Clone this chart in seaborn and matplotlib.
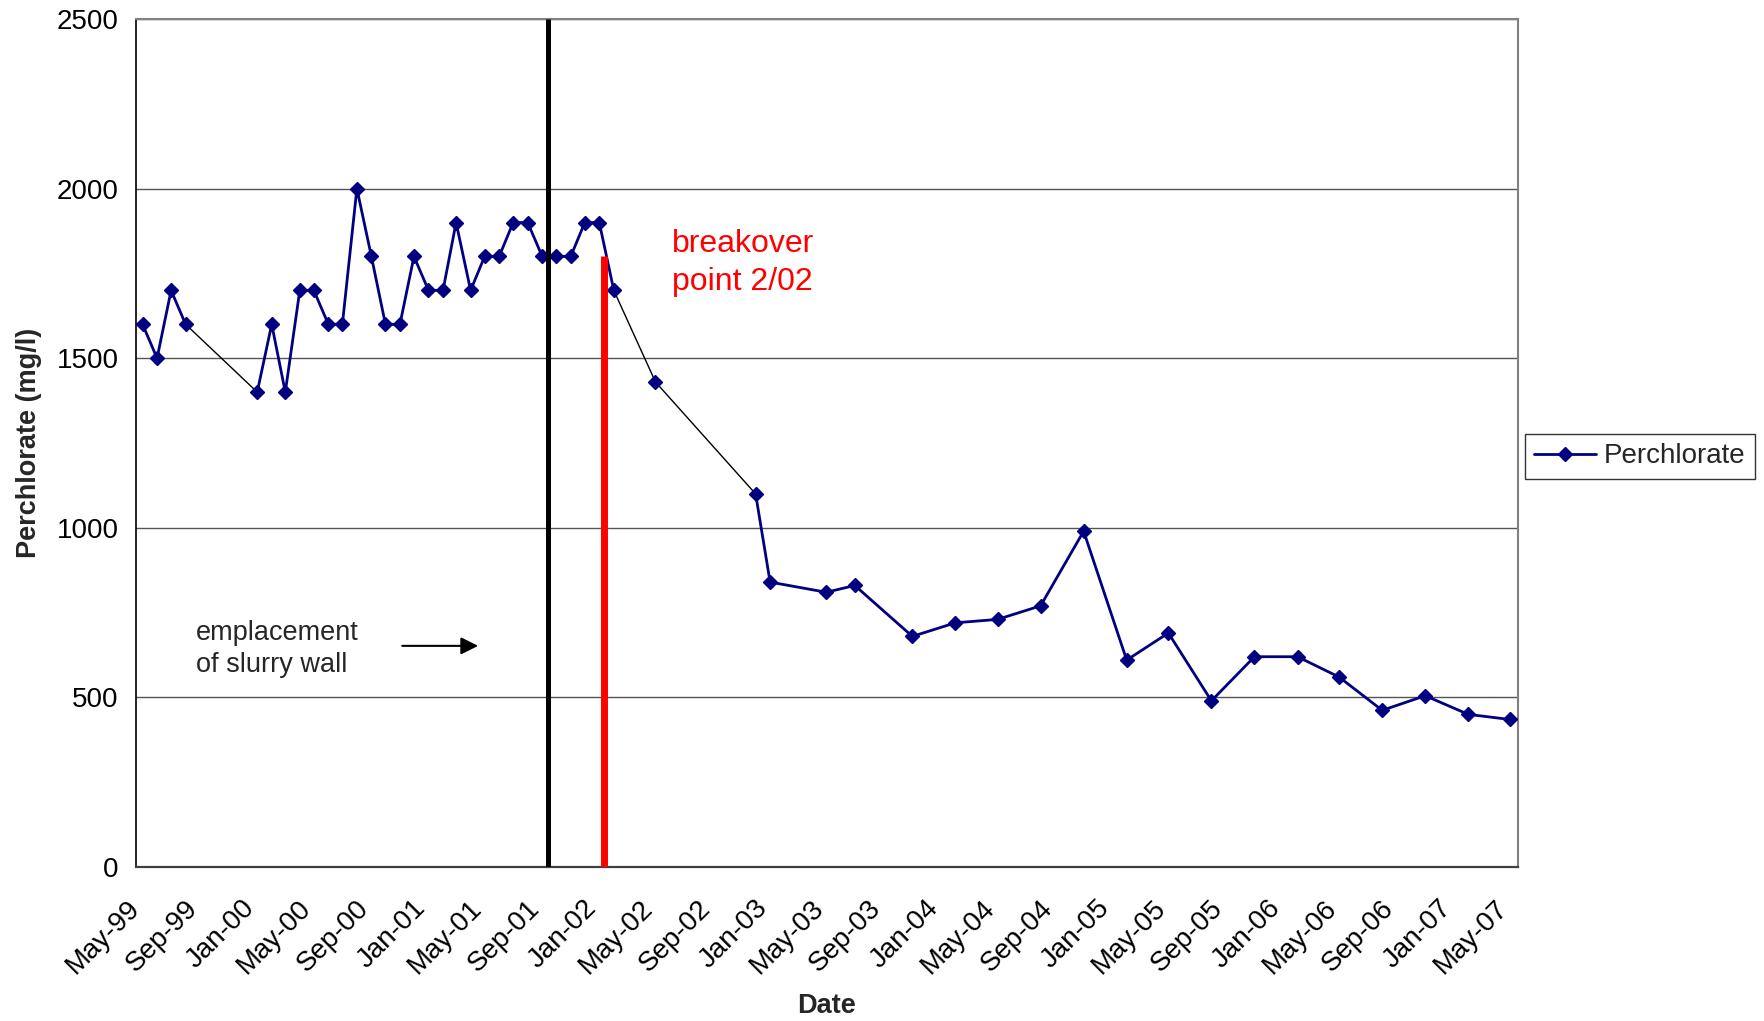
import pandas as pd
import numpy as np
import matplotlib
matplotlib.use('Agg')
import matplotlib.pyplot as plt
import matplotlib.dates as mdates
from matplotlib.lines import Line2D
from matplotlib.transforms import Bbox, TransformedBbox
import seaborn as sns

# sampling months and perchlorate concentrations (mg/l)
sample_months = ["1999-05", "1999-06", "1999-07", "1999-08",
                 "2000-01", "2000-02", "2000-03", "2000-04", "2000-05", "2000-06",
                 "2000-07", "2000-08", "2000-09", "2000-10", "2000-11", "2000-12",
                 "2001-01", "2001-02", "2001-03", "2001-04", "2001-05", "2001-06",
                 "2001-07", "2001-08", "2001-09", "2001-10", "2001-11", "2001-12",
                 "2002-01", "2002-02", "2002-05", "2002-12", "2003-01", "2003-05",
                 "2003-07", "2003-11", "2004-02", "2004-05", "2004-08", "2004-11",
                 "2005-02", "2005-05", "2005-08", "2005-11", "2006-02", "2006-05",
                 "2006-08", "2006-11", "2007-02", "2007-05"]
perchlorate = [1600, 1500, 1700, 1600,
               1400, 1600, 1400, 1700, 1700, 1600,
               1600, 2000, 1800, 1600, 1600, 1800,
               1700, 1700, 1900, 1700, 1800, 1800,
               1900, 1900, 1800, 1800, 1800, 1900,
               1900, 1700, 1430, 1100, 840, 810,
               830, 680, 720, 730, 770, 990,
               610, 690, 490, 620, 620, 560,
               462, 505, 450, 435]
# months after which the series is bridged by a thin black hand-drawn line
bridged_after = ["1999-08", "2002-02", "2002-05"]

slurry_wall_date = "2001-09-28"
breakover_date = "2002-01-24"
breakover_top = 1800

sns.set_style('white')
plt.rcParams['font.family'] = ['Liberation Sans', 'DejaVu Sans']

df = pd.DataFrame({'month': sample_months, 'value': perchlorate})
df['date'] = pd.to_datetime(df['month']) + pd.Timedelta(days=14)
df['seg'] = df['month'].isin(bridged_after).shift(1, fill_value=False).cumsum()

navy = '#000080'
fig = plt.figure(figsize=(17.64, 10.21), dpi=100)
ax = fig.add_axes([0.0771, 0.1508, 0.7834, 0.8306])

# black bridging lines across the data gaps
for m in bridged_after:
    i = df.index[df['month'] == m][0]
    ax.plot(df['date'].iloc[i:i + 2], df['value'].iloc[i:i + 2],
            color='black', lw=1.0, zorder=2)

sns.lineplot(data=df, x='date', y='value', units='seg', estimator=None,
             sort=False, color=navy, lw=2, marker='D', markersize=7.5,
             markeredgecolor=navy, markeredgewidth=1, ax=ax, legend=False,
             zorder=3)

ax.vlines(pd.Timestamp(slurry_wall_date), 0, 2500, color='black', lw=3.6, zorder=4)
ax.vlines(pd.Timestamp(breakover_date), 0, breakover_top, color='red', lw=5, zorder=4)

ax.text(pd.Timestamp('2002-06-20'), 1882, 'breakover\npoint 2/02', color='red',
        fontsize=23, va='top', ha='left', linespacing=1.35)
t = ax.text(pd.Timestamp('1999-09-07'), 728, 'emplacement\nof slurry wall',
            fontsize=19.5, va='top', ha='left', linespacing=1.3)
# the original text box cuts off the descenders of the second line
x0 = mdates.date2num(pd.Timestamp('1999-08-01'))
t.set_clip_box(TransformedBbox(Bbox([[x0, 574], [x0 + 600, 900]]), ax.transData))
ax.annotate('', xy=(mdates.date2num(pd.Timestamp('2001-05-07')), 652),
            xytext=(mdates.date2num(pd.Timestamp('2000-11-14')), 652),
            arrowprops=dict(arrowstyle='-|>', color='black', lw=1.5, mutation_scale=26))

ax.set_xlim(pd.Timestamp('1999-05-01'), pd.Timestamp('2007-06-01'))
ax.set_ylim(0, 2500)
ax.set_yticks(np.arange(0, 2501, 500))
ax.xaxis.set_major_locator(mdates.MonthLocator(bymonth=[1, 5, 9]))
ax.xaxis.set_major_formatter(mdates.DateFormatter('%b-%y'))
ax.yaxis.grid(True, color='#555555', lw=1)
ax.set_axisbelow(True)

ax.tick_params(axis='both', direction='out', length=6, width=1, color='black',
               labelsize=20, labelcolor='black')
ax.tick_params(axis='y', pad=6.5)
ax.tick_params(axis='x', pad=21)
for lab in ax.get_xticklabels():
    lab.set_rotation(45)
    lab.set_ha('right')
    lab.set_va('center')
    lab.set_rotation_mode('anchor')

for side in ['top', 'right']:
    ax.spines[side].set_color('#808080')
    ax.spines[side].set_linewidth(1.5)
ax.spines['left'].set_color('black')
ax.spines['left'].set_linewidth(1.2)
ax.spines['bottom'].set_color('#404040')
ax.spines['bottom'].set_linewidth(1.6)

ax.set_xlabel('Date', fontsize=19.5, fontweight='bold')
ax.set_ylabel('Perchlorate (mg/l)', fontsize=19.5, fontweight='bold')
ax.xaxis.set_label_coords(0.5, -0.149)
ax.yaxis.set_label_coords(-0.068, 0.5)

handle = Line2D([], [], color=navy, lw=2, marker='D', markersize=7.5,
                markeredgecolor=navy)
leg = fig.legend([handle], ['Perchlorate'], loc='center',
                 bbox_to_anchor=(0.9297, 0.553), bbox_transform=fig.transFigure,
                 frameon=True, fancybox=False, edgecolor='black', fontsize=20,
                 handlelength=2.2, handletextpad=0.3, borderpad=0.35)
leg.get_frame().set_linewidth(1)

fig.savefig('out.png', dpi=100)
